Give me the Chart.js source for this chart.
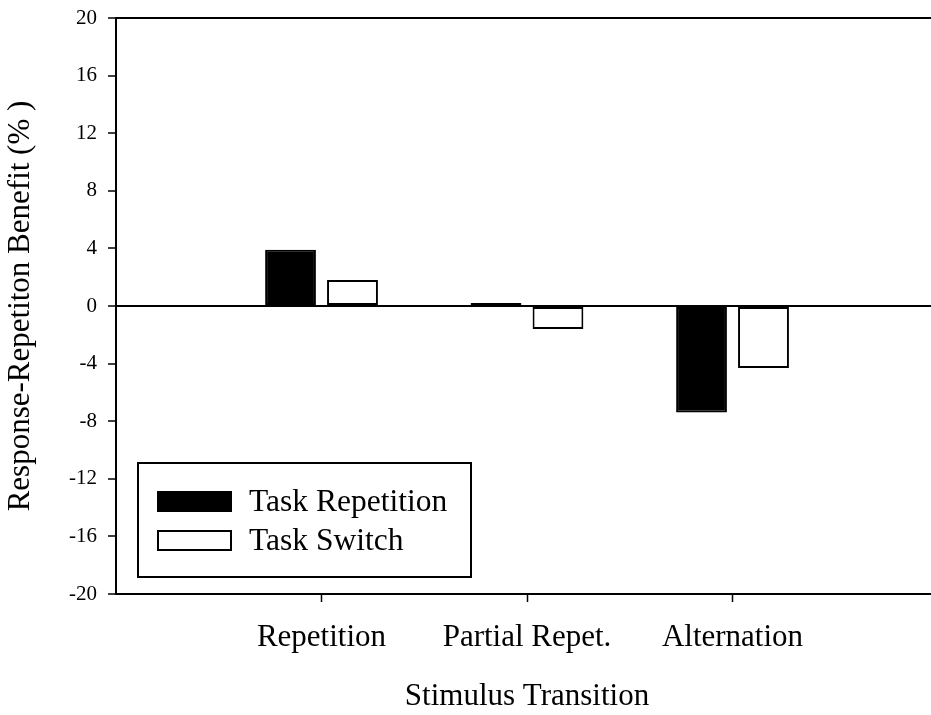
<!DOCTYPE html>
<html>
<head>
<meta charset="utf-8">
<script src="https://cdn.jsdelivr.net/npm/chart.js@4/dist/chart.umd.min.js"></script>
<style>
  html, body { margin: 0; padding: 0; background: #fff; overflow: hidden; }
  /* plot runs a few pixels past the right edge of the window, as in the original */
  #wrap { width: 938px; height: 715px; position: relative; }
</style>
</head>
<body>
<div id="wrap"><canvas id="myChart"></canvas></div>
<script>
// data
const categories = ['Repetition', 'Partial Repet.', 'Alternation']
const taskRepetition = [3.9, 0.2, -7.4]
const taskSwitch = [1.8, -1.6, -4.3]
const yTicks = [-20, -16, -12, -8, -4, 0, 4, 8, 12, 16, 20]
const seriesNames = ['Task Repetition', 'Task Switch']

const serif = 'Liberation Serif, Times New Roman, serif'

// empty slot on each side so the three groups sit at quarter points
const labels = [''].concat(categories, [''])
const pad = arr => [null].concat(arr, [null])

// legend box drawn inside the plot, lower left
const boxLegend = {
    id: 'boxLegend',
    afterDraw(chart) {
        const ctx = chart.ctx
        const area = chart.chartArea
        const x = area.left + 22
        const w = 333
        const h = 114
        const y = area.bottom - 17 - h
        ctx.save()
        ctx.lineWidth = 2
        ctx.strokeStyle = '#000'
        ctx.fillStyle = '#fff'
        ctx.fillRect(x, y, w, h)
        ctx.strokeRect(x, y, w, h)
        ctx.font = '31.5px ' + serif
        ctx.textBaseline = 'alphabetic'
        chart.data.datasets.forEach((ds, i) => {
            const base = y + 48 + i * 39
            ctx.fillStyle = ds.backgroundColor
            ctx.fillRect(x + 20, base - 19, 73, 19)
            ctx.strokeRect(x + 20, base - 19, 73, 19)
            ctx.fillStyle = '#000'
            ctx.fillText(ds.label, x + 111, base)
        })
        ctx.restore()
    }
}

new Chart('myChart', {
    type: 'bar',
    data: {
        labels: labels,
        datasets: [{
            label: seriesNames[0],
            data: pad(taskRepetition),
            backgroundColor: '#000',
            borderColor: '#000',
            borderWidth: 2,
            borderSkipped: false
        }, {
            label: seriesNames[1],
            data: pad(taskSwitch),
            backgroundColor: '#fff',
            borderColor: '#000',
            borderWidth: 2,
            borderSkipped: false
        }]
    },
    options: {
        responsive: true,
        maintainAspectRatio: false,
        animation: false,
        categoryPercentage: 0.603,
        barPercentage: 0.82,
        layout: { padding: { top: 18, right: 0, left: 0, bottom: 0 } },
        plugins: {
            legend: { display: false },
            tooltip: { enabled: false }
        },
        scales: {
            x: {
                offset: false,
                border: { color: '#000', width: 2 },
                grid: {
                    offset: false,
                    drawOnChartArea: false,
                    tickLength: 8,
                    tickWidth: 1.5,
                    tickColor: c => (c.index === 0 || c.index === labels.length - 1) ? 'rgba(0,0,0,0)' : '#000'
                },
                ticks: {
                    color: '#000',
                    padding: 17,
                    maxRotation: 0,
                    autoSkip: false,
                    font: { family: serif, size: 31 }
                },
                title: {
                    display: true,
                    text: 'Stimulus Transition',
                    color: '#000',
                    padding: { top: 0, bottom: 0 },
                    font: { family: serif, size: 31 }
                },
                afterFit(scale) {
                    scale.height = 121
                    scale.paddingLeft = 0
                    scale.paddingRight = 0
                }
            },
            y: {
                min: yTicks[0],
                max: yTicks[yTicks.length - 1],
                afterBuildTicks(scale) { scale.ticks = yTicks.map(v => ({ value: v })) },
                border: { color: '#000', width: 2 },
                grid: {
                    drawOnChartArea: true,
                    color: c => (c.tick && (c.tick.value === 0 || c.tick.value === 20)) ? '#000' : 'rgba(0,0,0,0)',
                    lineWidth: 2,
                    tickColor: '#000',
                    tickLength: 8,
                    tickWidth: 1.5
                },
                ticks: {
                    color: '#000',
                    padding: 11,
                    font: { family: serif, size: 21 }
                },
                title: {
                    display: true,
                    text: 'Response-Repetiton Benefit (% )',
                    color: '#000',
                    padding: { top: 2, bottom: 0 },
                    font: { family: serif, size: 31 }
                },
                afterFit(scale) {
                    scale.width = 116
                    scale.paddingTop = 0
                    scale.paddingBottom = 0
                }
            }
        }
    },
    plugins: [boxLegend]
})
</script>
</body>
</html>
